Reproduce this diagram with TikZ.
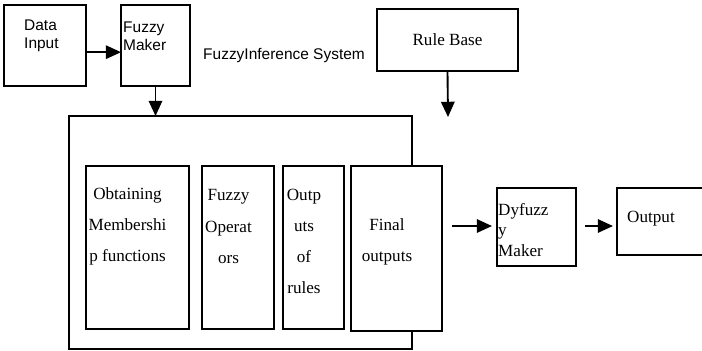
\documentclass[tikz,border=0pt]{standalone}
\usepackage{fontspec}
\setmainfont{Liberation Serif}
\setsansfont{Liberation Sans}
\usetikzlibrary{arrows.meta}

\begin{document}
\begin{tikzpicture}[x=0.03cm,y=-0.03cm,
  box/.style={draw,line width=1.1pt,inner sep=0pt,outer sep=0pt},
  sanstxt/.style={font=\sffamily\fontsize{13.2}{15.4}\selectfont,inner sep=0pt,align=left},
  sertxt/.style={font=\fontsize{14.6}{26.5}\selectfont,inner sep=0pt,align=center},
  arr/.style={line width=1.6pt,-{Triangle[length=13pt,width=11.5pt]}}]
\useasboundingbox (0,0) rectangle (702,350);

% input and fuzzy maker
\node[box,minimum width=2.46cm,minimum height=2.43cm] (datain) at (45,45.5) {};
\node[sanstxt,anchor=west] (datatxt) at (24,36) {Data\\Input};
\node[box,minimum width=2.07cm,minimum height=2.43cm] (fmaker) at (155.5,45.5) {};
\node[sanstxt,anchor=west] (fmakertxt) at (123,36) {Fuzzy\\Maker};
\draw[arr] ([yshift=-0.2cm]datain.east) -- ([yshift=-0.2cm]fmaker.west);

% title and rule base
\node[sanstxt,anchor=west] (fistxt) at (203,56) {FuzzyInference System};
\node[box,minimum width=4.23cm,minimum height=1.86cm,
  font=\fontsize{14.6}{17}\selectfont] (rulebase) at (447.5,40) {Rule Base};
\coordinate (rbend) at (448,117);
\draw[arr] (rulebase.south) -- (rbend);

% inference system
\node[box,minimum width=10.29cm,minimum height=6.99cm] (fis) at (240.5,232.5) {};
\draw[arr] (fmaker.south) -- (fmaker.south |- fis.north);

\node[box,minimum width=3.09cm,minimum height=4.89cm] (memb) at (137.5,247.5) {};
\node[sertxt] (membtxt) at (127.5,226.5) {Obtaining\\Membershi\\p functions};
\node[box,minimum width=2.16cm,minimum height=4.89cm] (fop) at (238,247.5) {};
\node[sertxt] (foptxt) at (228.5,226.5) {Fuzzy\\Operat\\ors};
\node[box,minimum width=1.83cm,minimum height=4.89cm] (orules) at (313.5,247.5) {};
\node[sertxt] (orulestxt) at (304,241.5) {Outp\\uts\\of\\rules};
\node[box,fill=white,minimum width=2.73cm,minimum height=4.95cm] (final) at (396.5,248.5) {};
\node[sertxt] (finaltxt) at (387,241.5) {Final\\outputs};

% defuzzifier and output
\node[box,minimum width=2.37cm,minimum height=2.34cm] (dyf) at (536.5,227) {};
\node[font=\fontsize{14.6}{17.2}\selectfont,inner sep=0pt,align=left,anchor=west] (dyftxt) at (498,230) {Dyfuzz\\y\\Maker};
\node[box,minimum width=2.58cm,minimum height=2.01cm] (outb) at (660,221.5) {};
\node[font=\fontsize{14.6}{17}\selectfont,inner sep=0pt,anchor=west] (outtxt) at (627,219) {Output};

\coordinate (fo) at (452,226);
\draw[arr,shorten >=0.15cm] (fo) -- (dyf.west |- fo);
\draw[arr,shorten <=0.27cm,shorten >=0.12cm] (dyf.east |- fo) -- (outb.west |- fo);
\end{tikzpicture}
\end{document}
